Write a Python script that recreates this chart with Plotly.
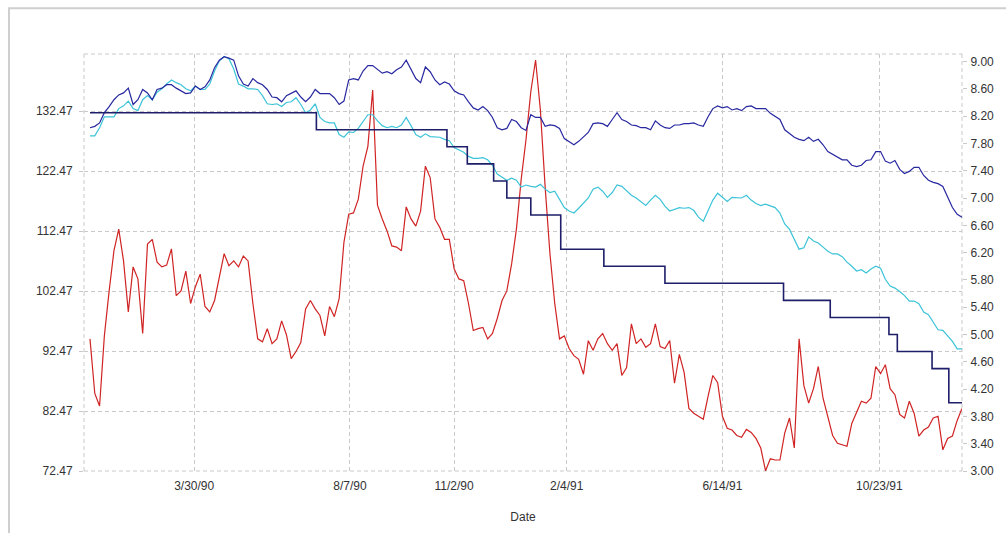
import pandas as pd
import plotly.graph_objects as go

# ---------------- data ----------------
dates = pd.date_range("1990-01-02", periods=183, freq="4D")

red_vals = [
    94.5, 85.4, 83.3, 95.0, 102.5, 109.2, 112.8, 107.5, 99.0, 106.5,
    104.5, 95.4, 110.3, 111.1, 107.3, 106.5, 106.8, 109.5, 101.7, 102.5,
    105.8, 100.4, 103.2, 105.3, 99.9, 99.0, 100.9, 105.0, 108.7, 106.7,
    107.5, 106.5, 108.3, 107.5, 100.4, 94.5, 94.0, 96.2, 93.7, 94.5,
    97.5, 95.2, 91.2, 92.4, 93.9, 99.5, 100.9, 99.5, 98.4, 95.0,
    99.9, 98.2, 101.2, 110.6, 115.3, 115.5, 117.8, 123.3, 126.6, 136.0,
    116.8, 114.5, 112.5, 110.0, 109.8, 109.2, 116.5, 114.5, 113.3, 115.8,
    123.3, 121.4, 114.5, 113.1, 111.1, 111.1, 106.2, 104.5, 104.2, 100.4,
    95.9, 96.2, 96.4, 94.5, 95.4, 97.9, 100.9, 102.5, 107.0, 112.8,
    121.1, 127.7, 135.7, 141.0, 132.7, 119.8, 108.7, 100.4, 94.5, 95.0,
    92.9, 91.7, 91.1, 88.6, 94.2, 92.6, 94.5, 95.4, 93.7, 92.6,
    93.7, 88.4, 89.7, 97.0, 93.7, 94.5, 93.1, 93.7, 97.0, 93.2,
    92.9, 94.2, 87.1, 91.9, 88.9, 82.9, 82.1, 81.6, 81.1, 84.9,
    88.4, 87.2, 81.6, 79.6, 79.3, 78.4, 78.1, 79.4, 78.9, 77.9,
    76.3, 72.5, 74.5, 74.3, 74.3, 78.8, 81.3, 76.3, 94.5, 86.7,
    83.8, 86.2, 89.9, 84.6, 81.6, 78.4, 77.1, 76.9, 76.6, 80.4,
    82.4, 84.1, 83.8, 84.6, 89.9, 88.7, 90.2, 86.2, 85.2, 81.9,
    81.3, 84.1, 82.1, 78.3, 79.3, 79.8, 81.3, 81.6, 76.0, 77.9,
    78.3, 80.9, 82.9,
]

blue_vals = [
    8.03, 8.05, 8.10, 8.25, 8.34, 8.44, 8.51, 8.54, 8.61, 8.37,
    8.44, 8.59, 8.54, 8.44, 8.59, 8.61, 8.66, 8.66, 8.61, 8.57,
    8.53, 8.54, 8.64, 8.59, 8.63, 8.73, 8.91, 9.02, 9.07, 9.05,
    9.02, 8.79, 8.67, 8.64, 8.75, 8.69, 8.66, 8.59, 8.48, 8.47,
    8.41, 8.50, 8.54, 8.57, 8.48, 8.41, 8.48, 8.59, 8.53, 8.53,
    8.53, 8.47, 8.37, 8.42, 8.73, 8.75, 8.73, 8.86, 8.94, 8.94,
    8.88, 8.83, 8.85, 8.82, 8.88, 8.92, 9.02, 8.89, 8.75, 8.69,
    8.92, 8.85, 8.73, 8.66, 8.70, 8.67, 8.57, 8.53, 8.51, 8.41,
    8.32, 8.29, 8.34, 8.28, 8.18, 8.03, 8.00, 8.02, 8.15, 8.12,
    8.03, 7.99, 8.22, 8.18, 8.18, 8.05, 8.07, 8.06, 8.02, 7.87,
    7.83, 7.78, 7.83, 7.89, 7.96, 8.09, 8.10, 8.09, 8.05, 8.15,
    8.25, 8.15, 8.12, 8.07, 8.06, 8.03, 8.03, 8.00, 8.13, 8.07,
    8.03, 8.02, 8.07, 8.07, 8.09, 8.09, 8.10, 8.07, 8.05, 8.19,
    8.31, 8.35, 8.32, 8.34, 8.29, 8.31, 8.28, 8.34, 8.35, 8.31,
    8.31, 8.31, 8.24, 8.19, 8.15, 8.00, 7.94, 7.89, 7.86, 7.84,
    7.89, 7.83, 7.86, 7.78, 7.68, 7.64, 7.59, 7.56, 7.56, 7.48,
    7.46, 7.48, 7.55, 7.56, 7.68, 7.68, 7.54, 7.51, 7.55, 7.42,
    7.36, 7.39, 7.45, 7.45, 7.33, 7.26, 7.23, 7.21, 7.17, 7.01,
    6.86, 6.76, 6.72,
]

cyan_vals = [
    7.91, 7.91, 8.03, 8.19, 8.19, 8.19, 8.31, 8.35, 8.42, 8.31,
    8.28, 8.44, 8.50, 8.44, 8.55, 8.60, 8.67, 8.73, 8.69, 8.66,
    8.60, 8.57, 8.64, 8.59, 8.59, 8.67, 8.86, 9.01, 9.07, 9.04,
    8.89, 8.67, 8.64, 8.60, 8.60, 8.59, 8.50, 8.38, 8.37, 8.38,
    8.34, 8.40, 8.41, 8.47, 8.37, 8.25, 8.29, 8.38, 8.18, 8.12,
    8.10, 8.10, 7.93, 7.89, 7.97, 7.96, 8.02, 8.13, 8.22, 8.22,
    8.13, 8.06, 8.03, 8.05, 8.03, 8.07, 8.18, 8.06, 7.93, 7.89,
    7.94, 7.90, 7.89, 7.89, 7.86, 7.84, 7.74, 7.71, 7.67, 7.61,
    7.58, 7.58, 7.59, 7.56, 7.48, 7.35, 7.30, 7.26, 7.29, 7.26,
    7.16, 7.19, 7.17, 7.16, 7.20, 7.13, 7.08, 7.10, 6.98, 6.86,
    6.81, 6.78, 6.85, 6.92, 7.00, 7.13, 7.16, 7.10, 7.01, 7.08,
    7.19, 7.17, 7.10, 7.04, 7.00, 6.94, 6.89, 6.97, 7.04, 6.98,
    6.88, 6.81, 6.84, 6.86, 6.85, 6.86, 6.82, 6.72, 6.66, 6.81,
    6.97, 7.07, 7.01, 6.95, 7.01, 7.01, 7.00, 7.04, 6.97, 6.92,
    6.89, 6.91, 6.89, 6.86, 6.78, 6.62, 6.54, 6.40, 6.25, 6.27,
    6.43, 6.37, 6.34, 6.28, 6.22, 6.18, 6.18, 6.14, 6.06, 6.00,
    5.93, 5.95, 5.90, 5.96, 6.00, 5.97, 5.81, 5.71, 5.68, 5.63,
    5.57, 5.49, 5.49, 5.45, 5.33, 5.29, 5.17, 5.07, 5.06, 4.98,
    4.90, 4.79, 4.79,
]

step_dates = [
    "1990-01-02", "1990-07-10", "1990-10-27", "1990-11-13", "1990-12-05",
    "1990-12-16", "1991-01-05", "1991-01-30", "1991-03-07", "1991-04-27",
    "1991-08-04", "1991-09-12", "1991-10-31", "1991-11-07", "1991-12-06",
    "1991-12-20", "1991-12-31",
]
step_vals = [
    8.25, 8.00, 7.75, 7.50, 7.25, 7.00, 6.75, 6.25, 6.00, 5.75,
    5.50, 5.25, 5.00, 4.75, 4.50, 4.00, 4.00,
]

x_tick_dates = ["1990-03-30", "1990-08-07", "1990-11-02", "1991-02-04", "1991-06-14", "1991-10-23"]
x_tick_text = ["3/30/90", "8/7/90", "11/2/90", "2/4/91", "6/14/91", "10/23/91"]
left_ticks = [72.47, 82.47, 92.47, 102.47, 112.47, 122.47, 132.47]
right_ticks = [3.0, 3.4, 3.8, 4.2, 4.6, 5.0, 5.4, 5.8, 6.2, 6.6, 7.0, 7.4, 7.8, 8.2, 8.6, 9.0]

# ---------------- figure ----------------
FONT = "Liberation Sans, Arial, sans-serif"
GRID = "#c9c9c9"

fig = go.Figure()
fig.add_trace(go.Scatter(x=dates, y=cyan_vals, mode="lines", yaxis="y2",
                         line=dict(color="#3cc3d8", width=1.2), showlegend=False))
fig.add_trace(go.Scatter(x=dates, y=blue_vals, mode="lines", yaxis="y2",
                         line=dict(color="#2828a0", width=1.2), showlegend=False))
fig.add_trace(go.Scatter(x=pd.to_datetime(step_dates), y=step_vals, mode="lines", yaxis="y2",
                         line=dict(color="#1e1e6a", width=1.6, shape="hv"), showlegend=False))
fig.add_trace(go.Scatter(x=dates, y=red_vals, mode="lines", yaxis="y",
                         line=dict(color="#d02424", width=1.2), showlegend=False))

fig.update_layout(
    width=1006, height=533,
    margin=dict(l=84, r=44, t=54, b=60),
    paper_bgcolor="white", plot_bgcolor="white",
    font=dict(family=FONT, size=12, color="#333333"),
    xaxis=dict(
        type="date", range=["1989-12-28", "1991-12-31"],
        tickmode="array", tickvals=x_tick_dates, ticktext=x_tick_text,
        showgrid=True, gridcolor=GRID, griddash="4px,3px", gridwidth=1,
        zeroline=False, showline=False, ticks="", ticklabelstandoff=6,
        title=dict(text="Date", font=dict(size=12, color="#333333"), standoff=20),
    ),
    yaxis=dict(
        range=[72.47, 142.0], tickmode="array", tickvals=left_ticks,
        ticktext=["%.2f" % v for v in left_ticks],
        showgrid=True, gridcolor=GRID, griddash="4px,3px", gridwidth=1,
        zeroline=False, showline=False, ticks="outside", ticklen=4, tickcolor=GRID,
        ticklabelstandoff=4,
    ),
    yaxis2=dict(
        overlaying="y", side="right",
        range=[3.0, 9.11], tickmode="array", tickvals=right_ticks,
        ticktext=["%.2f" % v for v in right_ticks],
        showgrid=False, zeroline=False, showline=False,
        ticks="outside", ticklen=4, tickcolor=GRID, ticklabelstandoff=1,
    ),
)

# dashed border of the plotting area
for (x0, y0, x1, y1) in [(0, 1, 1, 1), (0, 0, 0, 1), (1, 0, 1, 1), (0, 0, 1, 0)]:
    fig.add_shape(type="line", xref="paper", yref="paper", x0=x0, y0=y0, x1=x1, y1=y1,
                  line=dict(color=GRID, width=1, dash="4px,3px"), layer="below")

# outer light-grey panel frame
fig.add_shape(type="rect", xref="paper", yref="paper",
              x0=-0.0854, y0=-0.2, x1=1.06, y1=1.1098,
              line=dict(color="#cfcfcf", width=2), layer="below")

fig.write_html("out.html", config={"displayModeBar": False},
               post_script="document.body.style.margin='0';")
